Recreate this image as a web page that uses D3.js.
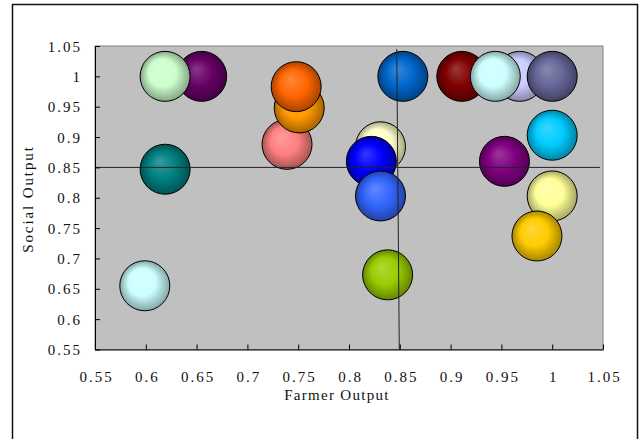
<!DOCTYPE html>
<html>
<head>
<meta charset="utf-8">
<script src="https://cdn.jsdelivr.net/npm/d3@7"></script>
<style>
  html, body { margin: 0; padding: 0; background: #fff; }
  svg { display: block; }
  text { font-family: "Liberation Serif", "DejaVu Serif", serif; fill: #111; }
</style>
</head>
<body>
<svg id="chart" width="640" height="439"></svg>
<script>
// Farmer output (x) and social output (y) for each unit, in drawing order
const farmerOutput = [0.655, 0.619, 0.619, 0.739, 0.751, 0.748, 0.853, 0.911, 0.968, 0.944,
                      1.000, 1.000, 0.953, 0.831, 0.822, 0.831, 1.000, 0.985, 0.838, 0.599];
const socialOutput = [1.000, 1.000, 0.847, 0.888, 0.948, 0.983, 1.000, 1.000, 1.000, 1.000,
                      1.000, 0.903, 0.860, 0.884, 0.860, 0.803, 0.803, 0.737, 0.673, 0.655];
const bubbleSize   = [1, 1, 1, 1, 1, 1, 1, 1, 1, 1, 1, 1, 1, 1, 1, 1, 1, 1, 1, 1];
const bubbleColors = ["#660066", "#CCFFCC", "#008080", "#FF8080", "#FF9900", "#FF6600",
                      "#0066CC", "#800000", "#CCCCFF", "#CCFFFF", "#666699", "#00CCFF",
                      "#800080", "#FFFFCC", "#0000FF", "#3366FF", "#FFFF99", "#FFCC00",
                      "#99CC00", "#CCFFFF"];

// Axis ticks
const xTicks = [0.55, 0.6, 0.65, 0.7, 0.75, 0.8, 0.85, 0.9, 0.95, 1, 1.05];
const yTicks = [0.55, 0.6, 0.65, 0.7, 0.75, 0.8, 0.85, 0.9, 0.95, 1, 1.05];

// Quadrant dividing lines
const hLine = [[0.55, 0.85], [1.047, 0.85]];
const vLine = [[0.847, 1.045], [0.8495, 0.55]];

const svg = d3.select("#chart");
const plot = { left: 95, top: 46, right: 603, bottom: 349.5 };

const x = d3.scaleLinear().domain([0.55, 1.05]).range([plot.left, plot.right]);
const y = d3.scaleLinear().domain([0.55, 1.05]).range([plot.bottom, plot.top]);
const r = d3.scaleSqrt().domain([0, 1]).range([0, 25]);

const fmt = v => (v === 1 ? "1" : d3.format(".2~f")(v));
const labelFont = "15px";

// Outer chart frame
svg.append("rect")
  .attr("x", 12.5).attr("y", 4.5)
  .attr("width", 625).attr("height", 460)
  .attr("fill", "#fff").attr("stroke", "#111").attr("stroke-width", 1.5);

// Plot area
svg.append("rect")
  .attr("x", plot.left).attr("y", plot.top)
  .attr("width", plot.right - plot.left).attr("height", plot.bottom - plot.top)
  .attr("fill", "#C0C0C0").attr("stroke", "#808080").attr("stroke-width", 1);

// Shaded sphere gradients
const defs = svg.append("defs");
bubbleColors.forEach((c, i) => {
  const g = defs.append("radialGradient")
    .attr("id", "ball" + i)
    .attr("cx", "50%").attr("cy", "50%").attr("r", "50%")
    .attr("fx", "38%").attr("fy", "34%");
  g.append("stop").attr("offset", "0%").attr("stop-color", d3.interpolateRgb(c, "#fff")(0.22));
  g.append("stop").attr("offset", "55%").attr("stop-color", c);
  g.append("stop").attr("offset", "100%").attr("stop-color", d3.interpolateRgb(c, "#000")(0.35));
});

// Bubbles
svg.append("g").selectAll("circle")
  .data(farmerOutput.map((v, i) => ({ x: v, y: socialOutput[i], s: bubbleSize[i], i })))
  .join("circle")
  .attr("cx", d => x(d.x))
  .attr("cy", d => y(d.y))
  .attr("r", d => r(d.s))
  .attr("fill", d => `url(#ball${d.i})`)
  .attr("stroke", "#000").attr("stroke-width", 1);

// Dividing lines
const line = d3.line().x(d => x(d[0])).y(d => y(d[1]));
svg.append("path").attr("d", line(hLine)).attr("fill", "none").attr("stroke", "#222").attr("stroke-width", 1);
svg.append("path").attr("d", line(vLine)).attr("fill", "none").attr("stroke", "#222").attr("stroke-width", 1);

// X axis (ticks point into the plot)
const xAxis = svg.append("g")
  .attr("transform", `translate(0,${plot.bottom})`)
  .call(d3.axisBottom(x).tickValues(xTicks).tickFormat(fmt).tickSizeInner(-5).tickSizeOuter(0));
xAxis.select(".domain").attr("stroke", "#000");
xAxis.selectAll(".tick line").attr("stroke", "#000");
xAxis.selectAll(".tick text")
  .attr("x", 1).attr("y", 32).attr("dy", 0)
  .style("font-size", labelFont)
  .style("font-family", "'Liberation Serif', serif")
  .style("letter-spacing", "2px")
  .attr("fill", "#111");

// Y axis (ticks point into the plot)
const yAxis = svg.append("g")
  .attr("transform", `translate(${plot.left},0)`)
  .call(d3.axisLeft(y).tickValues(yTicks).tickFormat(fmt).tickSizeInner(-5).tickSizeOuter(0));
yAxis.select(".domain").attr("stroke", "#000");
yAxis.selectAll(".tick line").attr("stroke", "#000");
yAxis.selectAll(".tick text")
  .attr("x", -13).attr("dy", "0.34em")
  .style("font-size", labelFont)
  .style("font-family", "'Liberation Serif', serif")
  .style("letter-spacing", "2px")
  .attr("fill", "#111");

// Axis titles
svg.append("text")
  .attr("x", 337).attr("y", 399.5)
  .attr("text-anchor", "middle")
  .style("font-size", labelFont)
  .style("letter-spacing", "1.3px")
  .text("Farmer Output");

svg.append("text")
  .attr("transform", "translate(33,199) rotate(-90)")
  .attr("text-anchor", "middle")
  .style("font-size", labelFont)
  .style("letter-spacing", "1.9px")
  .text("Social Output");
</script>
</body>
</html>
